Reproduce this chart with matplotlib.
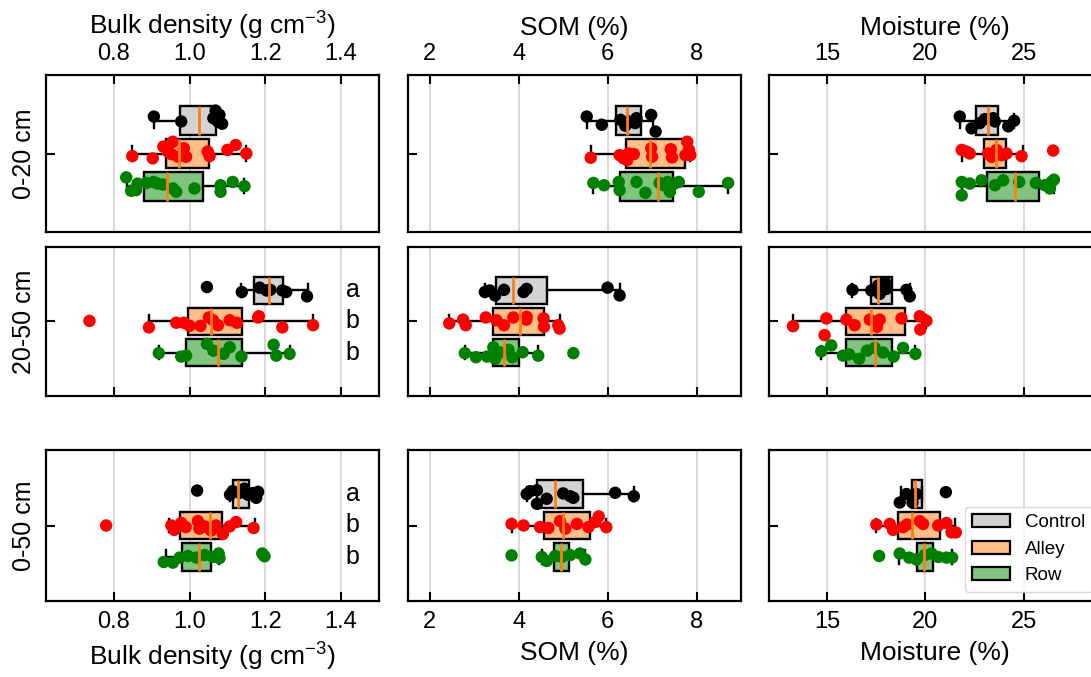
import matplotlib
matplotlib.use("Agg")
import matplotlib.pyplot as plt
from matplotlib.patches import Patch

plt.rcParams['font.family'] = ['Liberation Sans', 'DejaVu Sans']
plt.rcParams['mathtext.fontset'] = 'custom'
plt.rcParams['mathtext.rm'] = 'Liberation Sans'
plt.rcParams['mathtext.it'] = 'Liberation Sans:italic'
plt.rcParams['mathtext.default'] = 'regular'

# ---------------- data ----------------
groups = ["Control", "Alley", "Row"]
depths = ["0-20 cm", "20-50 cm", "0-50 cm"]
variables = ["Bulk density (g cm$^{-3}$)", "SOM (%)", "Moisture (%)"]
x_ticks = [[0.8, 1.0, 1.2, 1.4], [2, 4, 6, 8], [15, 20, 25]]
x_ticklabels = [["0.8", "1.0", "1.2", "1.4"], ["2", "4", "6", "8"], ["15", "20", "25"]]
letters_2050 = ["a", "b", "b"]
letters_050 = ["a", "b", "b"]

# box statistics: [whisker low, q1, median, q3, whisker high] for Control, Alley, Row
bd_020_box = [[0.906, 0.975, 1.024, 1.0705, 1.086], [0.849, 0.938, 0.971, 1.051, 1.150], [0.835, 0.879, 0.940, 1.035, 1.145]]
som_020_box = [[5.53, 6.195, 6.44, 6.75, 7.02], [5.62, 6.42, 6.95, 7.75, 7.86], [5.68, 6.29, 7.13, 7.47, 8.71]]
moi_020_box = [[21.75, 22.57, 23.2, 23.71, 24.52], [21.85, 22.99, 23.59, 24.13, 24.98], [21.85, 23.15, 24.56, 25.78, 26.55]]
bd_2050_box = [[1.137, 1.169, 1.21, 1.247, 1.313], [0.893, 0.996, 1.058, 1.139, 1.326], [0.919, 0.991, 1.076, 1.138, 1.264]]
som_2050_box = [[3.24, 3.5, 3.88, 4.63, 6.27], [2.44, 3.43, 4.02, 4.58, 4.92], [2.79, 3.43, 3.68, 4.0, 4.44]]
moi_2050_box = [[16.28, 17.21, 17.6, 18.27, 19.2], [13.25, 15.94, 17.21, 18.98, 20.05], [14.69, 15.97, 17.45, 18.27, 19.49]]
bd_050_box = [[1.106, 1.114, 1.128, 1.157, 1.181], [0.947, 0.976, 1.054, 1.086, 1.172], [0.938, 0.981, 1.025, 1.057, 1.079]]
som_050_box = [[4.18, 4.41, 4.82, 5.44, 6.59], [3.84, 4.56, 4.99, 5.61, 5.97], [4.52, 4.80, 4.95, 5.14, 5.50]]
moi_050_box = [[18.74, 19.32, 19.46, 19.85, 19.85], [17.5, 18.61, 19.34, 20.73, 21.53], [18.64, 19.57, 19.91, 20.36, 21.36]]

# individual samples (value) and vertical jitter offsets
bd_020_control = [0.906, 0.978, 1.069, 1.079, 1.063, 1.086, 1.075]
bd_020_control_jit = [0.13, -0.02, 0.31, 0.18, 0.08, -0.09, -0.02]
bd_020_alley = [0.849, 0.903, 0.931, 0.943, 0.956, 0.952, 0.970, 0.991, 0.985, 1.048, 1.053, 1.100, 1.122, 1.150]
bd_020_alley_jit = [-0.08, -0.15, 0.21, 0.06, 0.36, -0.02, -0.10, -0.10, 0.16, 0.06, -0.08, 0.11, 0.26, 0.0]
bd_020_row = [0.833, 0.846, 0.859, 0.863, 0.886, 0.905, 0.916, 0.930, 0.956, 0.965, 1.013, 1.082, 1.082, 1.114, 1.145]
bd_020_row_jit = [0.27, -0.14, -0.12, 0.08, 0.10, 0.13, 0.08, 0.05, -0.07, -0.17, -0.07, 0.03, -0.17, 0.13, 0.0]

som_020_control = [5.53, 5.87, 6.29, 6.47, 6.62, 6.65, 6.98, 7.08, 6.40]
som_020_control_jit = [0.13, -0.12, 0.03, -0.02, -0.07, 0.08, 0.18, -0.33, -0.15]
som_020_alley = [5.62, 6.27, 6.36, 6.47, 6.59, 6.44, 6.98, 7.00, 7.42, 7.45, 7.79, 7.83, 7.86, 7.75]
som_020_alley_jit = [-0.13, -0.05, -0.15, 0.0, -0.02, -0.20, 0.16, -0.10, 0.13, -0.12, 0.36, 0.11, -0.05, -0.05]
som_020_row = [5.68, 5.92, 6.25, 6.27, 6.65, 6.85, 7.26, 7.35, 7.40, 7.50, 7.60, 8.05, 8.71, 7.17, 7.42]
som_020_row_jit = [0.10, 0.03, 0.13, -0.12, 0.13, -0.20, 0.03, 0.13, -0.17, 0.08, 0.13, -0.17, 0.10, 0.10, -0.02]

moi_020_control = [21.75, 22.35, 22.77, 23.03, 23.45, 23.54, 24.22, 24.52]
moi_020_control_jit = [0.13, -0.23, -0.07, 0.05, 0.08, -0.02, -0.17, 0.0]
moi_020_alley = [21.85, 22.26, 23.20, 23.62, 23.88, 24.13, 24.90, 26.51, 22.09, 23.37]
moi_020_alley_jit = [0.11, 0.0, 0.0, 0.11, -0.05, 0.0, -0.08, 0.09, 0.06, -0.10]
moi_020_row = [21.85, 22.26, 21.85, 22.86, 23.54, 23.96, 24.78, 25.63, 26.09, 26.43, 26.55, 26.34]
moi_020_row_jit = [0.13, 0.08, -0.28, 0.18, 0.03, 0.18, 0.13, 0.10, 0.03, 0.13, 0.20, -0.07]

bd_2050_control = [1.046, 1.138, 1.185, 1.203, 1.213, 1.245, 1.255, 1.310]
bd_2050_control_jit = [0.11, -0.05, 0.09, 0.0, 0.02, 0.0, -0.05, -0.19]
bd_2050_alley = [0.736, 0.893, 0.965, 0.985, 1.000, 1.029, 1.051, 1.075, 1.106, 1.125, 1.181, 1.183, 1.245, 1.326, 1.062]
bd_2050_alley_jit = [0.02, -0.19, -0.04, -0.04, -0.14, -0.14, 0.13, -0.12, 0.04, -0.04, 0.13, 0.17, -0.19, -0.12, 0.04]
bd_2050_row = [0.919, 0.978, 0.991, 1.046, 1.063, 1.090, 1.106, 1.137, 1.222, 1.229, 1.264]
bd_2050_row_jit = [-0.02, -0.13, -0.10, 0.28, 0.06, -0.04, 0.17, -0.13, 0.25, -0.10, -0.04]

som_2050_control = [3.24, 3.35, 3.47, 3.67, 4.11, 4.18, 6.00, 6.27]
som_2050_control_jit = [-0.05, 0.0, -0.16, 0.02, -0.05, 0.05, 0.09, -0.16]
som_2050_alley = [2.44, 2.75, 2.81, 3.26, 3.50, 3.67, 3.88, 4.17, 4.18, 4.56, 4.57, 4.89, 4.92]
som_2050_alley_jit = [-0.06, 0.06, -0.12, 0.13, 0.04, -0.12, 0.13, 0.06, 0.15, 0.10, -0.17, -0.12, -0.23]
som_2050_row = [2.79, 3.04, 3.29, 3.43, 3.47, 3.58, 3.77, 3.86, 4.09, 4.44, 5.23]
som_2050_row_jit = [-0.02, -0.15, -0.13, 0.17, -0.20, 0.0, 0.09, -0.15, 0.01, -0.10, -0.02]

moi_2050_control = [16.28, 17.24, 17.59, 17.67, 17.93, 18.01, 19.03, 19.20]
moi_2050_control_jit = [0.02, 0.0, 0.16, -0.11, 0.27, 0.05, 0.02, -0.19]
moi_2050_alley = [13.25, 14.95, 14.86, 15.97, 16.39, 17.16, 17.67, 17.53, 18.78, 19.71, 19.74, 20.05]
moi_2050_alley_jit = [-0.15, 0.10, -0.44, 0.06, -0.12, 0.06, 0.06, -0.17, 0.10, 0.17, -0.26, 0.02]
moi_2050_row = [14.69, 15.20, 15.80, 16.11, 16.62, 17.02, 17.41, 17.84, 18.38, 18.86, 19.49]
moi_2050_row_jit = [0.04, 0.23, -0.10, -0.06, -0.20, 0.06, 0.15, 0.0, -0.13, 0.15, -0.04]

bd_050_control = [1.020, 1.107, 1.114, 1.132, 1.145, 1.154, 1.176, 1.181, 1.167]
bd_050_control_jit = [0.11, -0.02, 0.09, 0.04, 0.17, -0.02, -0.12, 0.07, 0.03]
bd_050_alley = [0.780, 0.952, 0.960, 0.978, 1.022, 1.040, 1.057, 1.070, 1.088, 1.106, 1.123, 1.169, 1.026, 0.990]
bd_050_alley_jit = [0.0, 0.0, -0.14, 0.08, 0.14, -0.03, -0.16, 0.0, -0.27, -0.03, 0.11, -0.08, -0.10, -0.05]
bd_050_row = [0.932, 0.956, 0.974, 0.996, 1.018, 1.040, 1.062, 1.077, 1.079, 1.192, 1.198]
bd_050_row_jit = [-0.16, -0.18, -0.02, 0.03, -0.02, 0.06, 0.0, 0.11, -0.04, 0.11, 0.02]

som_050_control = [4.18, 4.26, 4.41, 4.41, 4.63, 5.00, 5.16, 5.23, 6.17, 6.59]
som_050_control_jit = [0.0, 0.09, 0.12, -0.31, -0.15, 0.02, -0.07, -0.12, 0.04, -0.07]
som_050_alley = [3.84, 4.11, 4.48, 4.67, 4.93, 5.05, 5.31, 5.57, 5.72, 5.80, 5.97]
som_050_alley_jit = [0.05, 0.0, -0.05, -0.08, 0.14, -0.10, 0.05, -0.05, 0.11, 0.29, -0.05]
som_050_row = [3.84, 4.52, 4.63, 4.82, 4.97, 5.16, 5.38, 5.50]
som_050_row_jit = [0.05, 0.0, -0.13, 0.03, 0.0, 0.06, 0.11, -0.08]

moi_050_control = [18.69, 19.34, 19.54, 21.04, 19.03]
moi_050_control_jit = [-0.27, -0.27, 0.0, 0.06, 0.0]
moi_050_alley = [17.50, 18.18, 18.35, 18.86, 19.06, 19.71, 19.88, 20.65, 21.07, 21.33, 21.55]
moi_050_alley_jit = [0.03, 0.05, -0.14, -0.05, 0.03, 0.14, 0.05, 0.0, 0.08, -0.22, -0.22]
moi_050_row = [17.64, 18.69, 19.17, 19.54, 19.97, 20.31, 20.65, 21.07, 21.36]
moi_050_row_jit = [0.03, 0.11, -0.02, -0.08, 0.06, 0.11, 0.0, -0.02, -0.02]

# ---------------- styling ----------------
box_colors = ["#d3d3d3", "#ffbf86", "#80c480"]
point_colors = ["black", "red", "green"]
positions = [3, 2, 1]
x_limits = [(0.62, 1.5), (1.5, 9.0), (12.0, 29.0)]

panels = [
    [(bd_020_box, [(bd_020_control, bd_020_control_jit), (bd_020_alley, bd_020_alley_jit), (bd_020_row, bd_020_row_jit)]),
     (som_020_box, [(som_020_control, som_020_control_jit), (som_020_alley, som_020_alley_jit), (som_020_row, som_020_row_jit)]),
     (moi_020_box, [(moi_020_control, moi_020_control_jit), (moi_020_alley, moi_020_alley_jit), (moi_020_row, moi_020_row_jit)])],
    [(bd_2050_box, [(bd_2050_control, bd_2050_control_jit), (bd_2050_alley, bd_2050_alley_jit), (bd_2050_row, bd_2050_row_jit)]),
     (som_2050_box, [(som_2050_control, som_2050_control_jit), (som_2050_alley, som_2050_alley_jit), (som_2050_row, som_2050_row_jit)]),
     (moi_2050_box, [(moi_2050_control, moi_2050_control_jit), (moi_2050_alley, moi_2050_alley_jit), (moi_2050_row, moi_2050_row_jit)])],
    [(bd_050_box, [(bd_050_control, bd_050_control_jit), (bd_050_alley, bd_050_alley_jit), (bd_050_row, bd_050_row_jit)]),
     (som_050_box, [(som_050_control, som_050_control_jit), (som_050_alley, som_050_alley_jit), (som_050_row, som_050_row_jit)]),
     (moi_050_box, [(moi_050_control, moi_050_control_jit), (moi_050_alley, moi_050_alley_jit), (moi_050_row, moi_050_row_jit)])],
]

W, H = 1091, 677
fig = plt.figure(figsize=(W / 100, H / 100), dpi=100)
col_left = [45.5, 407.5, 768.5]
col_width = 333.5
row_span = [(75, 232), (247, 396), (450, 601)]

axes = []
for r in range(3):
    for c in range(3):
        top, bot = row_span[r]
        ax = fig.add_axes([col_left[c] / W, 1 - bot / H, col_width / W, (bot - top) / H])
        axes.append(ax)
        box, pts = panels[r][c]
        stats = [dict(whislo=b[0], q1=b[1], med=b[2], q3=b[3], whishi=b[4], fliers=[]) for b in box]
        bp = ax.bxp(stats, positions=positions, widths=0.88, orientation='horizontal',
                    patch_artist=True, showfliers=False,
                    boxprops=dict(edgecolor='black', linewidth=1.7),
                    whiskerprops=dict(color='black', linewidth=1.7),
                    capprops=dict(color='black', linewidth=1.7),
                    medianprops=dict(color='#ff7f0e', linewidth=2.0))
        for patch, fc in zip(bp['boxes'], box_colors):
            patch.set_facecolor(fc)
            patch.set_zorder(2)
        for med in bp['medians']:
            med.set_zorder(5)
        for (vals, jit), pos, pc in zip(pts, positions, point_colors):
            ax.scatter(vals, [pos + j for j in jit], s=80, color=pc, edgecolors='none', zorder=4)

        ax.set_xlim(*x_limits[c])
        ax.set_ylim(-0.4, 4.4)
        ax.set_xticks(x_ticks[c])
        ax.set_xticklabels(x_ticklabels[c])
        ax.grid(axis='x', color='#d6d6d6', linewidth=1.3)
        ax.set_axisbelow(True)
        ax.set_yticks([2])
        ax.set_yticklabels([depths[r]] if c == 0 else [""], rotation=90, va='center')
        ax.tick_params(axis='y', direction='in', length=6.5, width=1.5, labelsize=18, pad=6.5)
        ax.tick_params(axis='x', direction='in', length=6.5, width=1.5, labelsize=17, pad=7.0)
        for s in ax.spines.values():
            s.set_linewidth(1.6)
        if r == 0:
            ax.xaxis.tick_top()
            ax.xaxis.set_label_position('top')
            ax.set_xlabel(variables[c], fontsize=19, labelpad=6)
        elif r == 1:
            ax.tick_params(axis='x', labelbottom=False)
        else:
            ax.set_xlabel(variables[c], fontsize=19, labelpad=6)

        if c == 0 and r == 1:
            for pos, let in zip(positions, letters_2050):
                ax.text(1.43, pos, let, fontsize=18, ha='center', va='center')
        if c == 0 and r == 2:
            for pos, let in zip(positions, letters_050):
                ax.text(1.43, pos, let, fontsize=18, ha='center', va='center')

handles = [Patch(facecolor=fc, edgecolor='black', linewidth=1.6, label=g) for fc, g in zip(box_colors, groups)]
axes[-1].legend(handles=handles, loc='lower right', fontsize=13.5)

fig.savefig("out.png", dpi=100)
